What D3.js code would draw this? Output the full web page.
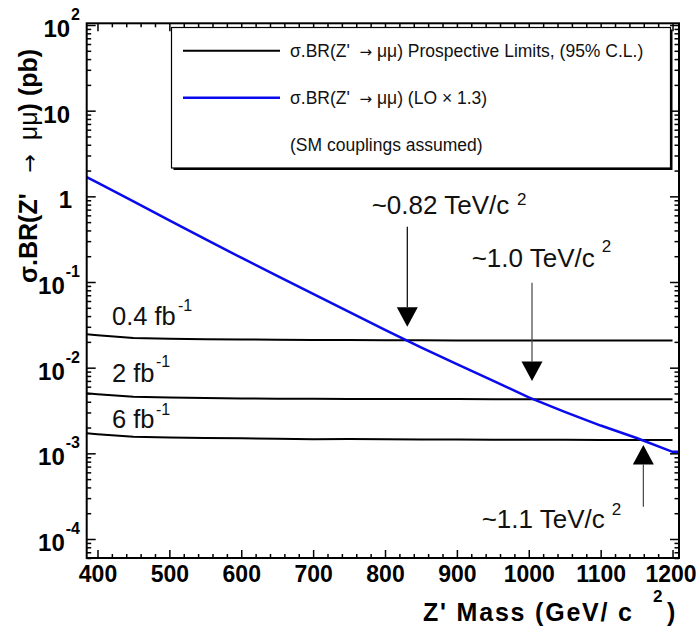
<!DOCTYPE html>
<html><head><meta charset="utf-8">
<script src="https://cdn.jsdelivr.net/npm/d3@7"></script>
<style>body{margin:0;background:#fff} text{font-family:"Liberation Sans",Arial,Helvetica,sans-serif} .sym{font-family:"DejaVu Sans",sans-serif}</style>
</head><body>
<svg id="c" width="698" height="627"></svg>
<script>
// ---- data ----
const masses = [385,400,450,500,550,600,650,700,750,800,850,900,950,1000,1050,1100,1150,1200,1209];
const xsecLO = [1.68,1.445,0.871,0.525,0.316,0.192,0.118,0.0728,0.0449,0.0276,0.01726,0.01102,0.00705,0.00450,0.00305,0.00211,0.00151,0.00104,0.00104];
const limitMasses = [385,400,450,500,550,600,650,700,750,800,850,900,950,1000,1050,1100,1150,1200];
const limit04 = [0.0245,0.0239,0.0222,0.0217,0.0215,0.0213,0.0212,0.0211,0.0210,0.0209,0.0209,0.0208,0.0208,0.0207,0.0207,0.0207,0.0207,0.0207];
const limit2 = [5.02e-3,4.9e-3,4.58e-3,4.48e-3,4.42e-3,4.38e-3,4.35e-3,4.33e-3,4.32e-3,4.31e-3,4.30e-3,4.30e-3,4.29e-3,4.29e-3,4.28e-3,4.28e-3,4.28e-3,4.28e-3];
const limit6 = [1.714e-3,1.67e-3,1.563e-3,1.53e-3,1.51e-3,1.496e-3,1.48e-3,1.46e-3,1.47e-3,1.46e-3,1.45e-3,1.45e-3,1.44e-3,1.44e-3,1.44e-3,1.435e-3,1.432e-3,1.432e-3];
const lumiLabels = ["0.4 fb", "2 fb", "6 fb"];
const xTicks = [400,500,600,700,800,900,1000,1100,1200];
const yTicks = [1e2,1e1,1,1e-1,1e-2,1e-3,1e-4];
const yTickBase = ["10","10","1","10","10","10","10"];
const yTickExp = ["2","","","-1","-2","-3","-4"];
// annotations: mass, arrow tip value, arrow tail value, label
const arrowMass = [831, 1004.5, 1159.4];
const arrowTip = [0.030, 6.98e-3, 1.25e-3];
const arrowTail = [0.443, 0.098, 2.38e-4];
const arrowLabels = ["~0.82 TeV/c", "~1.0 TeV/c", "~1.1 TeV/c"];
const legendPre = ["\u03c3.BR(Z'\u00a0\u00a0", "\u03c3.BR(Z'\u00a0\u00a0", ""];
const legendPost = ["\u00a0\u03bc\u03bc) Prospective Limits, (95% C.L.)", "\u00a0\u03bc\u03bc) (LO \u00d7 1.3)", "(SM couplings assumed)"];

// ---- layout ----
const svg = d3.select("#c");
const L = 86.7, R = 679, T = 23.3, B = 558;
const x = d3.scaleLinear().domain([385, 1209]).range([L, R]);
const y = d3.scaleLog().domain([6.0e-5, 104.7]).range([B, T]);

// curves
const line = d3.line().x(d => x(d[0])).y(d => y(d[1]));
const blue = "#0a0aee";
[limit04, limit2, limit6].forEach(arr => {
  svg.append("path").datum(limitMasses.map((m,i)=>[m,arr[i]]))
    .attr("d", line).attr("fill","none").attr("stroke","#000").attr("stroke-width",2);
});
svg.append("path").datum(masses.map((m,i)=>[m,xsecLO[i]]))
  .attr("d", line).attr("fill","none").attr("stroke",blue).attr("stroke-width",2.5);

// axes (ticks inside)
const minorX = d3.range(400, 1209, 20).filter(v => v % 100 !== 0);
const minorY = [];
for (let e = -5; e <= 2; e++) for (let k = 2; k <= 9; k++) { const v = k*Math.pow(10,e); if (v>6e-5 && v<104.7) minorY.push(v); }

function styleAxis(g){ g.select(".domain").remove(); g.selectAll("line").attr("stroke","#000").attr("stroke-width",1.5); }
svg.append("g").attr("transform",`translate(0,${B})`)
  .call(d3.axisBottom(x).tickValues(xTicks).tickSize(-8).tickPadding(8).tickFormat(d3.format("d")))
  .call(styleAxis)
  .call(g => g.selectAll("text").attr("fill","#000").attr("font-size","23px").attr("font-weight","bold")
     .attr("font-family","'Liberation Sans',Arial,sans-serif")
     .attr("dx", d => d === 1200 ? -2 : 0));
svg.append("g").attr("transform",`translate(0,${B})`)
  .call(d3.axisBottom(x).tickValues(minorX).tickSize(-4).tickFormat("")).call(styleAxis);
svg.append("g").attr("transform",`translate(0,${T})`)
  .call(d3.axisTop(x).tickValues(xTicks).tickSize(-8).tickFormat("")).call(styleAxis);
svg.append("g").attr("transform",`translate(0,${T})`)
  .call(d3.axisTop(x).tickValues(minorX).tickSize(-4).tickFormat("")).call(styleAxis);
svg.append("g").attr("transform",`translate(${L},0)`)
  .call(d3.axisLeft(y).tickValues(yTicks).tickSize(-9).tickFormat("")).call(styleAxis);
svg.append("g").attr("transform",`translate(${L},0)`)
  .call(d3.axisLeft(y).tickValues(minorY).tickSize(-4.5).tickFormat("")).call(styleAxis);
svg.append("g").attr("transform",`translate(${R},0)`)
  .call(d3.axisRight(y).tickValues(yTicks).tickSize(-9).tickFormat("")).call(styleAxis);
svg.append("g").attr("transform",`translate(${R},0)`)
  .call(d3.axisRight(y).tickValues(minorY).tickSize(-4.5).tickFormat("")).call(styleAxis);

// y tick labels
yTicks.forEach((v,i) => {
  const ty = y(v);
  if (yTickExp[i]) {
    const ex = svg.append("text").attr("x",80).attr("y",ty-5).attr("text-anchor","end")
      .attr("font-size","16px").attr("font-weight","bold").text(yTickExp[i]);
    const w = ex.node().getComputedTextLength();
    svg.append("text").attr("x",80-w-1).attr("y",ty+12).attr("text-anchor","end")
      .attr("font-size","24px").attr("font-weight","bold").text(yTickBase[i]);
  } else {
    svg.append("text").attr("x", yTickBase[i]==="1"?72:70).attr("y",ty+12).attr("text-anchor","end")
      .attr("font-size","24px").attr("font-weight","bold").text(yTickBase[i]);
  }
});

// frame
svg.append("rect").attr("x",L).attr("y",T).attr("width",R-L).attr("height",B-T)
  .attr("fill","none").attr("stroke","#000").attr("stroke-width",2);

// legend
const lg = svg.append("g");
lg.append("rect").attr("x",173.5).attr("y",29.5).attr("width",499).attr("height",140.5).attr("fill","#000");
lg.append("rect").attr("x",171.5).attr("y",27.5).attr("width",499).attr("height",140.5)
  .attr("fill","#fff").attr("stroke","#000").attr("stroke-width",1.2);
const legY = [50.7, 97.7, 144.7];
lg.append("line").attr("x1",183).attr("x2",280).attr("y1",legY[0]).attr("y2",legY[0]).attr("stroke","#000").attr("stroke-width",2);
lg.append("line").attr("x1",183).attr("x2",280).attr("y1",legY[1]).attr("y2",legY[1]).attr("stroke",blue).attr("stroke-width",2.5);
legendPost.forEach((t,i) => {
  const tx = lg.append("text").attr("x",290).attr("y",legY[i]+6).attr("font-size","17.5px").attr("fill","#111");
  if (legendPre[i]) {
    tx.append("tspan").text(legendPre[i]);
    tx.append("tspan").attr("class","sym").attr("font-size","15px").text("\u2192");
  }
  tx.append("tspan").text(t);
});

// luminosity labels
const lumiPos = [[112,325,178,311],[112,381.7,156,366.7],[112,428.3,156,415]];
lumiLabels.forEach((t,i) => {
  const p = lumiPos[i];
  svg.append("text").attr("x",p[0]).attr("y",p[1]).attr("font-size","25.5px").attr("fill","#111").text(t);
  svg.append("text").attr("x",p[2]).attr("y",p[3]).attr("font-size","16px").attr("fill","#111").text("-1");
});

// arrows
arrowMass.forEach((m,i) => {
  const ax = x(m), tip = y(arrowTip[i]), tail = y(arrowTail[i]);
  const dir = tip > tail ? 1 : -1;
  const base = tip - dir*19.5;
  svg.append("line").attr("x1",ax).attr("x2",ax).attr("y1",tail).attr("y2",base)
    .attr("stroke", i===0 ? "#000" : "#444").attr("stroke-width",1.2);
  svg.append("path").attr("d",`M${ax-10.5},${base}L${ax+10.5},${base}L${ax},${tip}Z`).attr("fill","#000");
});
const annPos = [[371.7,214,517,205],[471.7,266.7,601.7,251.7],[481.7,528.3,611.7,515]];
arrowLabels.forEach((t,i) => {
  const p = annPos[i];
  svg.append("text").attr("x",p[0]).attr("y",p[1]).attr("font-size","26px").attr("fill","#111").text(t);
  svg.append("text").attr("x",p[2]).attr("y",p[3]).attr("font-size","17px").attr("fill","#111").text("2");
});

// axis titles
const yt = svg.append("text").attr("transform","translate(37,166) rotate(-90)").attr("text-anchor","middle")
  .attr("font-size","25px").attr("font-weight","bold").attr("fill","#000");
yt.append("tspan").text("\u03c3.BR(Z'\u00a0\u00a0\u00a0");
yt.append("tspan").attr("class","sym").attr("font-weight","normal").attr("font-size","22px").text("\u2192");
yt.append("tspan").attr("font-weight","normal").text("\u00a0\u00a0\u03bc\u03bc");
yt.append("tspan").text(") (pb)");

svg.append("text").attr("x",423).attr("y",621).attr("font-size","25px").attr("font-weight","bold")
  .attr("textLength",209).attr("lengthAdjust","spacing").text("Z' Mass (GeV/ c");
svg.append("text").attr("x",653).attr("y",602).attr("font-size","17px").attr("font-weight","bold").text("2");
svg.append("text").attr("x",667).attr("y",621).attr("font-size","25px").attr("font-weight","bold").text(")");
</script>
</body></html>
